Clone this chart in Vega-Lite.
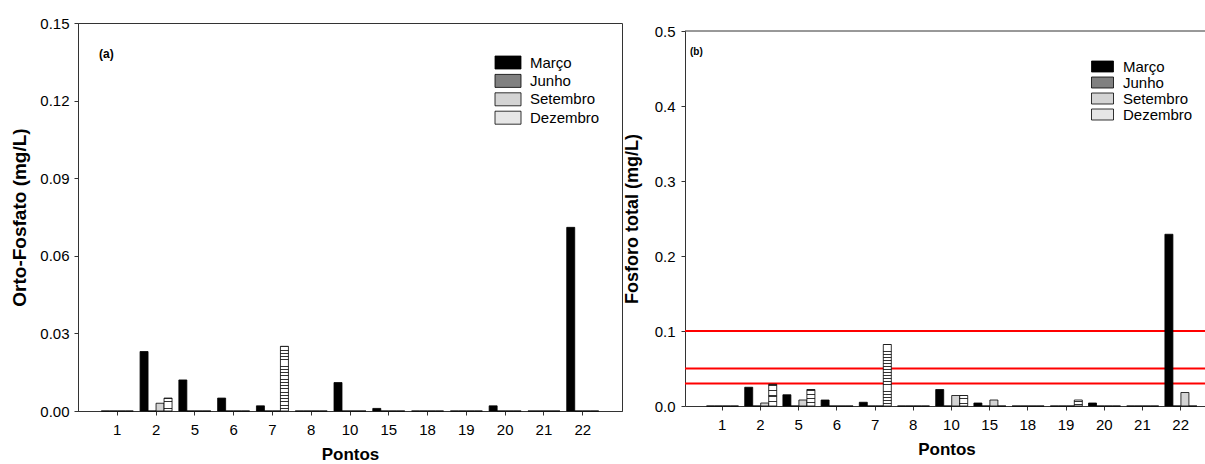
{
  "$schema": "https://vega.github.io/schema/vega-lite/v6.json",
  "padding": {"left": 10, "top": 15, "right": 0, "bottom": 0},
  "background": "white",
  "datasets": {
    "d": [
      {"p": "1", "mes": "Março", "of": 0, "pt": 0},
      {"p": "1", "mes": "Junho", "of": 0, "pt": 0},
      {"p": "1", "mes": "Setembro", "of": 0, "pt": 0},
      {"p": "1", "mes": "Dezembro", "of": 0, "pt": 0},
      {"p": "2", "mes": "Março", "of": 0.023, "pt": 0.025},
      {"p": "2", "mes": "Junho", "of": 0, "pt": 0},
      {"p": "2", "mes": "Setembro", "of": 0.003, "pt": 0.004},
      {"p": "2", "mes": "Dezembro", "of": 0.005, "pt": 0.029},
      {"p": "5", "mes": "Março", "of": 0.012, "pt": 0.015},
      {"p": "5", "mes": "Junho", "of": 0, "pt": 0},
      {"p": "5", "mes": "Setembro", "of": 0, "pt": 0.008},
      {"p": "5", "mes": "Dezembro", "of": 0, "pt": 0.022},
      {"p": "6", "mes": "Março", "of": 0.005, "pt": 0.008},
      {"p": "6", "mes": "Junho", "of": 0, "pt": 0},
      {"p": "6", "mes": "Setembro", "of": 0, "pt": 0},
      {"p": "6", "mes": "Dezembro", "of": 0, "pt": 0},
      {"p": "7", "mes": "Março", "of": 0.002, "pt": 0.005},
      {"p": "7", "mes": "Junho", "of": 0, "pt": 0},
      {"p": "7", "mes": "Setembro", "of": 0, "pt": 0},
      {"p": "7", "mes": "Dezembro", "of": 0.025, "pt": 0.082},
      {"p": "8", "mes": "Março", "of": 0, "pt": 0},
      {"p": "8", "mes": "Junho", "of": 0, "pt": 0},
      {"p": "8", "mes": "Setembro", "of": 0, "pt": 0},
      {"p": "8", "mes": "Dezembro", "of": 0, "pt": 0},
      {"p": "10", "mes": "Março", "of": 0.011, "pt": 0.022},
      {"p": "10", "mes": "Junho", "of": 0, "pt": 0},
      {"p": "10", "mes": "Setembro", "of": 0, "pt": 0.014},
      {"p": "10", "mes": "Dezembro", "of": 0, "pt": 0.014},
      {"p": "15", "mes": "Março", "of": 0.001, "pt": 0.004},
      {"p": "15", "mes": "Junho", "of": 0, "pt": 0},
      {"p": "15", "mes": "Setembro", "of": 0, "pt": 0.008},
      {"p": "15", "mes": "Dezembro", "of": 0, "pt": 0},
      {"p": "18", "mes": "Março", "of": 0, "pt": 0},
      {"p": "18", "mes": "Junho", "of": 0, "pt": 0},
      {"p": "18", "mes": "Setembro", "of": 0, "pt": 0},
      {"p": "18", "mes": "Dezembro", "of": 0, "pt": 0},
      {"p": "19", "mes": "Março", "of": 0, "pt": 0},
      {"p": "19", "mes": "Junho", "of": 0, "pt": 0},
      {"p": "19", "mes": "Setembro", "of": 0, "pt": 0},
      {"p": "19", "mes": "Dezembro", "of": 0, "pt": 0.008},
      {"p": "20", "mes": "Março", "of": 0.002, "pt": 0.004},
      {"p": "20", "mes": "Junho", "of": 0, "pt": 0},
      {"p": "20", "mes": "Setembro", "of": 0, "pt": 0},
      {"p": "20", "mes": "Dezembro", "of": 0, "pt": 0},
      {"p": "21", "mes": "Março", "of": 0, "pt": 0},
      {"p": "21", "mes": "Junho", "of": 0, "pt": 0},
      {"p": "21", "mes": "Setembro", "of": 0, "pt": 0},
      {"p": "21", "mes": "Dezembro", "of": 0, "pt": 0},
      {"p": "22", "mes": "Março", "of": 0.071, "pt": 0.229},
      {"p": "22", "mes": "Junho", "of": 0, "pt": 0},
      {"p": "22", "mes": "Setembro", "of": 0, "pt": 0.018},
      {"p": "22", "mes": "Dezembro", "of": 0, "pt": 0}
    ],
    "lim": [{"v": 0.1}, {"v": 0.05}, {"v": 0.03}],
    "top": [{"t": 0.5}]
  },
  "config": {
    "font": "Liberation Sans",
    "axis": {
      "labelFont": "Liberation Sans", "labelFontSize": 15, "labelColor": "#000",
      "titleFont": "Liberation Sans", "titleFontWeight": "bold", "titleColor": "#000",
      "domainColor": "#333", "tickColor": "#333", "tickSize": 4, "grid": false
    },
    "axisX": {"labelPadding": 7, "titleFontSize": 17, "titlePadding": 9, "labelAngle": 0},
    "axisY": {"labelPadding": 5, "titlePadding": 10},
    "legend": {"labelFont": "Liberation Sans", "labelColor": "#000"}
  },
  "resolve": {"scale": {"fill": "independent"}, "legend": {"fill": "independent"}},
  "spacing": 0,
  "hconcat": [
    {
      "width": 544,
      "height": 388,
      "data": {"name": "d"},
      "view": {"stroke": "#333"},
      "title": {"text": "(a)", "anchor": "start", "frame": "group", "offset": -45, "dx": 21, "fontSize": 12, "fontWeight": "bold", "font": "Liberation Sans", "color": "#000"},
      "mark": {"type": "bar", "stroke": "#000", "strokeWidth": 0.8},
      "encoding": {
        "x": {"field": "p", "type": "nominal", "sort": ["1","2","5","6","7","8","10","15","18","19","20","21","22"], "scale": {"paddingInner": 0.175, "paddingOuter": 0.6}, "axis": {"title": "Pontos"}},
        "xOffset": {"field": "mes", "type": "nominal", "sort": ["Março","Junho","Setembro","Dezembro"], "scale": {"paddingInner": 0, "paddingOuter": 0}},
        "y": {"field": "of", "type": "quantitative", "scale": {"domain": [0, 0.15], "nice": false}, "axis": {"title": "Orto-Fosfato (mg/L)", "titleFontSize": 19, "values": [0, 0.03, 0.06, 0.09, 0.12, 0.15], "format": ".2f"}},
        "fill": {
          "field": "mes", "type": "nominal",
          "scale": {"domain": ["Março","Junho","Setembro","Dezembro"], "range": ["#000000", "#808080", "#d4d4d4", "#e6e6e6"]},
          "legend": {"title": null, "orient": "none", "legendX": 422.5, "legendY": 32, "symbolType": "M-2,-1H2V1H-2Z", "symbolSize": 169, "labelFontSize": 15, "labelOffset": 14.5, "rowPadding": 1.4, "symbolStrokeColor": "#000", "symbolStrokeWidth": 0.8, "padding": 0},
          "condition": [
            {"test": "datum.mes === 'Dezembro' && datum.of > 0.02", "value": {"gradient": "linear", "x1": 0, "y1": 0, "x2": 0, "y2": 1, "stops": [
              {"offset": 0, "color": "#333"}, {"offset": 0.015, "color": "#333"}, {"offset": 0.015, "color": "#fff"}, {"offset": 0.05, "color": "#fff"},
              {"offset": 0.05, "color": "#333"}, {"offset": 0.065, "color": "#333"}, {"offset": 0.065, "color": "#fff"}, {"offset": 0.1, "color": "#fff"},
              {"offset": 0.1, "color": "#333"}, {"offset": 0.115, "color": "#333"}, {"offset": 0.115, "color": "#fff"}, {"offset": 0.15, "color": "#fff"},
              {"offset": 0.15, "color": "#333"}, {"offset": 0.165, "color": "#333"}, {"offset": 0.165, "color": "#fff"}, {"offset": 0.2, "color": "#fff"},
              {"offset": 0.2, "color": "#333"}, {"offset": 0.215, "color": "#333"}, {"offset": 0.215, "color": "#fff"}, {"offset": 0.25, "color": "#fff"},
              {"offset": 0.25, "color": "#333"}, {"offset": 0.265, "color": "#333"}, {"offset": 0.265, "color": "#fff"}, {"offset": 0.3, "color": "#fff"},
              {"offset": 0.3, "color": "#333"}, {"offset": 0.315, "color": "#333"}, {"offset": 0.315, "color": "#fff"}, {"offset": 0.35, "color": "#fff"},
              {"offset": 0.35, "color": "#333"}, {"offset": 0.365, "color": "#333"}, {"offset": 0.365, "color": "#fff"}, {"offset": 0.4, "color": "#fff"},
              {"offset": 0.4, "color": "#333"}, {"offset": 0.415, "color": "#333"}, {"offset": 0.415, "color": "#fff"}, {"offset": 0.45, "color": "#fff"},
              {"offset": 0.45, "color": "#333"}, {"offset": 0.465, "color": "#333"}, {"offset": 0.465, "color": "#fff"}, {"offset": 0.5, "color": "#fff"},
              {"offset": 0.5, "color": "#333"}, {"offset": 0.515, "color": "#333"}, {"offset": 0.515, "color": "#fff"}, {"offset": 0.55, "color": "#fff"},
              {"offset": 0.55, "color": "#333"}, {"offset": 0.565, "color": "#333"}, {"offset": 0.565, "color": "#fff"}, {"offset": 0.6, "color": "#fff"},
              {"offset": 0.6, "color": "#333"}, {"offset": 0.615, "color": "#333"}, {"offset": 0.615, "color": "#fff"}, {"offset": 0.65, "color": "#fff"},
              {"offset": 0.65, "color": "#333"}, {"offset": 0.665, "color": "#333"}, {"offset": 0.665, "color": "#fff"}, {"offset": 0.7, "color": "#fff"},
              {"offset": 0.7, "color": "#333"}, {"offset": 0.715, "color": "#333"}, {"offset": 0.715, "color": "#fff"}, {"offset": 0.75, "color": "#fff"},
              {"offset": 0.75, "color": "#333"}, {"offset": 0.765, "color": "#333"}, {"offset": 0.765, "color": "#fff"}, {"offset": 0.8, "color": "#fff"},
              {"offset": 0.8, "color": "#333"}, {"offset": 0.815, "color": "#333"}, {"offset": 0.815, "color": "#fff"}, {"offset": 0.85, "color": "#fff"},
              {"offset": 0.85, "color": "#333"}, {"offset": 0.865, "color": "#333"}, {"offset": 0.865, "color": "#fff"}, {"offset": 0.9, "color": "#fff"},
              {"offset": 0.9, "color": "#333"}, {"offset": 0.915, "color": "#333"}, {"offset": 0.915, "color": "#fff"}, {"offset": 0.95, "color": "#fff"},
              {"offset": 0.95, "color": "#333"}, {"offset": 0.965, "color": "#333"}, {"offset": 0.965, "color": "#fff"}, {"offset": 1, "color": "#fff"}
            ]}},
            {"test": "datum.mes === 'Dezembro'", "value": {"gradient": "linear", "x1": 0, "y1": 0, "x2": 0, "y2": 1, "stops": [
              {"offset": 0, "color": "#333"}, {"offset": 0.07, "color": "#333"}, {"offset": 0.07, "color": "#fff"}, {"offset": 0.25, "color": "#fff"},
              {"offset": 0.25, "color": "#333"}, {"offset": 0.32, "color": "#333"}, {"offset": 0.32, "color": "#fff"}, {"offset": 0.5, "color": "#fff"},
              {"offset": 0.5, "color": "#333"}, {"offset": 0.57, "color": "#333"}, {"offset": 0.57, "color": "#fff"}, {"offset": 0.75, "color": "#fff"},
              {"offset": 0.75, "color": "#333"}, {"offset": 0.82, "color": "#333"}, {"offset": 0.82, "color": "#fff"}, {"offset": 1, "color": "#fff"}
            ]}}
          ]
        }
      }
    },
    {
      "spacing": -5,
      "resolve": {"legend": {"fill": "independent"}},
      "vconcat": [
        {
          "width": 100,
          "height": 1,
          "data": {"values": [{}]},
          "view": {"stroke": null},
          "mark": {"type": "text"},
          "encoding": {"text": {"value": ""}}
        },
        {
          "width": 523,
          "height": 375,
          "view": {"stroke": null},
          "title": {"text": "(b)", "anchor": "start", "frame": "group", "offset": -33, "dx": 5, "fontSize": 10, "fontWeight": "bold", "font": "Liberation Sans", "color": "#000"},
          "layer": [
            {
              "data": {"name": "lim"},
              "mark": {"type": "rule", "color": "#ff0000", "strokeWidth": 2.2},
              "encoding": {
                "y": {"field": "v", "type": "quantitative", "title": "Fosforo total (mg/L)", "scale": {"domain": [0, 0.5], "nice": false}, "axis": {"titleFontSize": 18, "titlePadding": 13, "labelPadding": 6, "values": [0, 0.1, 0.2, 0.3, 0.4, 0.5], "format": ".1f"}}
              }
            },
            {
              "data": {"name": "top"},
              "mark": {"type": "rule", "color": "#333", "strokeWidth": 1},
              "encoding": {
                "y": {"field": "t", "type": "quantitative", "title": "Fosforo total (mg/L)"}
              }
            },
            {
              "data": {"name": "d"},
              "mark": {"type": "bar", "stroke": "#000", "strokeWidth": 0.8},
              "encoding": {
                "x": {"field": "p", "type": "nominal", "sort": ["1","2","5","6","7","8","10","15","18","19","20","21","22"], "scale": {"paddingInner": 0.175, "paddingOuter": 0.433, "align": 0.65}, "axis": {"title": "Pontos"}},
                "xOffset": {"field": "mes", "type": "nominal", "sort": ["Março","Junho","Setembro","Dezembro"], "scale": {"paddingInner": 0, "paddingOuter": 0}},
                "y": {"field": "pt", "type": "quantitative", "title": "Fosforo total (mg/L)"},
                "fill": {
                  "field": "mes", "type": "nominal",
                  "scale": {"domain": ["Março","Junho","Setembro","Dezembro"], "range": ["#000000", "#808080", "#d4d4d4", "#e6e6e6"]},
                  "legend": {"title": null, "orient": "none", "legendX": 410, "legendY": 28, "symbolType": "M-2,-1H2V1H-2Z", "symbolSize": 121, "labelFontSize": 15, "labelOffset": 13, "rowPadding": 0, "symbolStrokeColor": "#000", "symbolStrokeWidth": 0.8, "padding": 0},
                  "condition": [
                    {"test": "datum.mes === 'Dezembro' && datum.pt > 0.05", "value": {"gradient": "linear", "x1": 0, "y1": 0, "x2": 0, "y2": 1, "stops": [
                      {"offset": 0, "color": "#333"}, {"offset": 0.015, "color": "#333"}, {"offset": 0.015, "color": "#fff"}, {"offset": 0.05, "color": "#fff"},
                      {"offset": 0.05, "color": "#333"}, {"offset": 0.065, "color": "#333"}, {"offset": 0.065, "color": "#fff"}, {"offset": 0.1, "color": "#fff"},
                      {"offset": 0.1, "color": "#333"}, {"offset": 0.115, "color": "#333"}, {"offset": 0.115, "color": "#fff"}, {"offset": 0.15, "color": "#fff"},
                      {"offset": 0.15, "color": "#333"}, {"offset": 0.165, "color": "#333"}, {"offset": 0.165, "color": "#fff"}, {"offset": 0.2, "color": "#fff"},
                      {"offset": 0.2, "color": "#333"}, {"offset": 0.215, "color": "#333"}, {"offset": 0.215, "color": "#fff"}, {"offset": 0.25, "color": "#fff"},
                      {"offset": 0.25, "color": "#333"}, {"offset": 0.265, "color": "#333"}, {"offset": 0.265, "color": "#fff"}, {"offset": 0.3, "color": "#fff"},
                      {"offset": 0.3, "color": "#333"}, {"offset": 0.315, "color": "#333"}, {"offset": 0.315, "color": "#fff"}, {"offset": 0.35, "color": "#fff"},
                      {"offset": 0.35, "color": "#333"}, {"offset": 0.365, "color": "#333"}, {"offset": 0.365, "color": "#fff"}, {"offset": 0.4, "color": "#fff"},
                      {"offset": 0.4, "color": "#333"}, {"offset": 0.415, "color": "#333"}, {"offset": 0.415, "color": "#fff"}, {"offset": 0.45, "color": "#fff"},
                      {"offset": 0.45, "color": "#333"}, {"offset": 0.465, "color": "#333"}, {"offset": 0.465, "color": "#fff"}, {"offset": 0.5, "color": "#fff"},
                      {"offset": 0.5, "color": "#333"}, {"offset": 0.515, "color": "#333"}, {"offset": 0.515, "color": "#fff"}, {"offset": 0.55, "color": "#fff"},
                      {"offset": 0.55, "color": "#333"}, {"offset": 0.565, "color": "#333"}, {"offset": 0.565, "color": "#fff"}, {"offset": 0.6, "color": "#fff"},
                      {"offset": 0.6, "color": "#333"}, {"offset": 0.615, "color": "#333"}, {"offset": 0.615, "color": "#fff"}, {"offset": 0.65, "color": "#fff"},
                      {"offset": 0.65, "color": "#333"}, {"offset": 0.665, "color": "#333"}, {"offset": 0.665, "color": "#fff"}, {"offset": 0.7, "color": "#fff"},
                      {"offset": 0.7, "color": "#333"}, {"offset": 0.715, "color": "#333"}, {"offset": 0.715, "color": "#fff"}, {"offset": 0.75, "color": "#fff"},
                      {"offset": 0.75, "color": "#333"}, {"offset": 0.765, "color": "#333"}, {"offset": 0.765, "color": "#fff"}, {"offset": 0.8, "color": "#fff"},
                      {"offset": 0.8, "color": "#333"}, {"offset": 0.815, "color": "#333"}, {"offset": 0.815, "color": "#fff"}, {"offset": 0.85, "color": "#fff"},
                      {"offset": 0.85, "color": "#333"}, {"offset": 0.865, "color": "#333"}, {"offset": 0.865, "color": "#fff"}, {"offset": 0.9, "color": "#fff"},
                      {"offset": 0.9, "color": "#333"}, {"offset": 0.915, "color": "#333"}, {"offset": 0.915, "color": "#fff"}, {"offset": 0.95, "color": "#fff"},
                      {"offset": 0.95, "color": "#333"}, {"offset": 0.965, "color": "#333"}, {"offset": 0.965, "color": "#fff"}, {"offset": 1, "color": "#fff"}
                    ]}},
                    {"test": "datum.mes === 'Dezembro'", "value": {"gradient": "linear", "x1": 0, "y1": 0, "x2": 0, "y2": 1, "stops": [
                      {"offset": 0, "color": "#333"}, {"offset": 0.07, "color": "#333"}, {"offset": 0.07, "color": "#fff"}, {"offset": 0.25, "color": "#fff"},
                      {"offset": 0.25, "color": "#333"}, {"offset": 0.32, "color": "#333"}, {"offset": 0.32, "color": "#fff"}, {"offset": 0.5, "color": "#fff"},
                      {"offset": 0.5, "color": "#333"}, {"offset": 0.57, "color": "#333"}, {"offset": 0.57, "color": "#fff"}, {"offset": 0.75, "color": "#fff"},
                      {"offset": 0.75, "color": "#333"}, {"offset": 0.82, "color": "#333"}, {"offset": 0.82, "color": "#fff"}, {"offset": 1, "color": "#fff"}
                    ]}}
                  ]
                }
              }
            }
          ]
        }
      ]
    }
  ]
}
